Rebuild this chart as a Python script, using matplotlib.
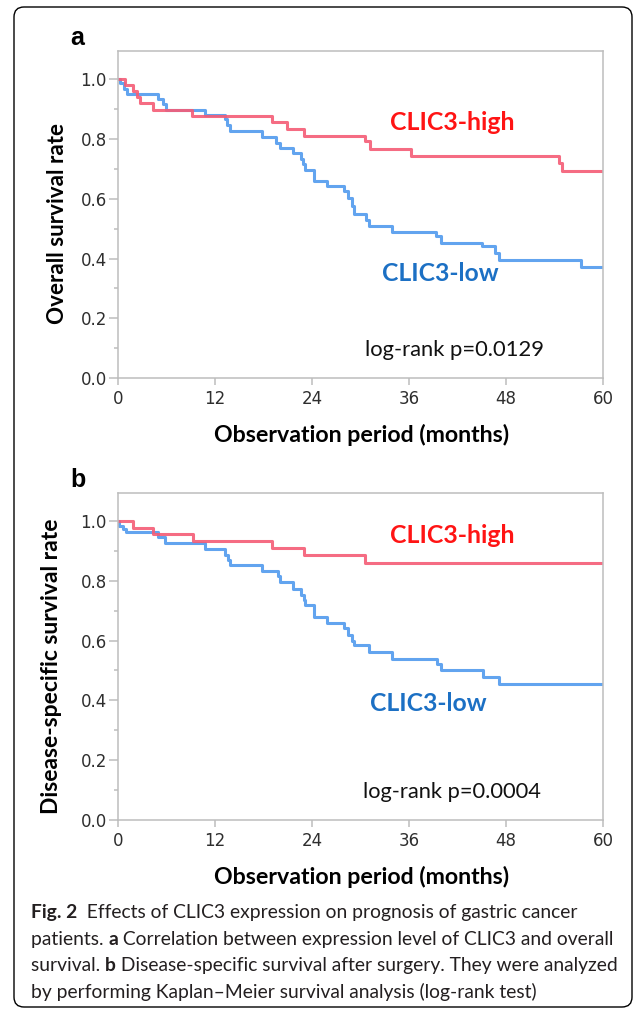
import matplotlib
matplotlib.use("Agg")
import matplotlib.pyplot as plt
from matplotlib.patches import FancyBboxPatch
from matplotlib.ticker import MultipleLocator
from matplotlib.transforms import IdentityTransform

W, H, DPI = 635, 1010, 100

# Kaplan-Meier curves (months, survival)
os_high_t = [0, 0.9, 1.8, 2.3, 2.7, 4.3, 9.2, 19.1, 20.9, 23.0, 30.6, 31.2, 36.3, 54.5, 54.9, 60]
os_high_s = [1.0, 0.981, 0.961, 0.942, 0.922, 0.897, 0.877, 0.857, 0.834, 0.810, 0.793, 0.768,
             0.745, 0.720, 0.692, 0.692]
os_low_t = [0, 0.25, 0.7, 1.1, 5.0, 5.6, 5.9, 10.8, 13.2, 13.5, 13.9, 17.8, 19.6, 20.1, 21.6,
            22.7, 22.9, 23.1, 24.2, 24.3, 25.8, 27.9, 28.4, 28.9, 29.2, 30.7, 31.0, 33.9, 39.4,
            39.9, 45.0, 46.7, 47.1, 57.3, 60]
os_low_s = [1.0, 0.987, 0.969, 0.950, 0.933, 0.916, 0.897, 0.880, 0.866, 0.846, 0.826, 0.806,
            0.787, 0.769, 0.752, 0.732, 0.715, 0.698, 0.676, 0.661, 0.642, 0.625, 0.603, 0.575,
            0.550, 0.530, 0.510, 0.488, 0.474, 0.452, 0.441, 0.418, 0.396, 0.373, 0.373]

dss_high_t = [0, 1.8, 4.3, 9.3, 19.1, 23.0, 30.6, 60]
dss_high_s = [1.0, 0.978, 0.958, 0.932, 0.910, 0.885, 0.860, 0.860]
dss_low_t = [0, 0.15, 0.6, 1.0, 5.0, 5.8, 10.8, 13.2, 13.6, 13.9, 17.8, 19.8, 20.1, 21.6, 22.7,
             23.0, 23.1, 24.2, 24.3, 25.9, 27.9, 28.5, 28.9, 29.2, 31.0, 33.9, 39.5, 39.9, 45.1,
             47.1, 60]
dss_low_s = [1.0, 0.983, 0.972, 0.962, 0.947, 0.925, 0.908, 0.886, 0.869, 0.852, 0.833, 0.815,
             0.796, 0.774, 0.752, 0.735, 0.718, 0.701, 0.679, 0.659, 0.641, 0.618, 0.600, 0.584,
             0.561, 0.539, 0.522, 0.500, 0.478, 0.455, 0.455]

x_ticks = [0, 12, 24, 36, 48, 60]
y_ticks = [0.0, 0.2, 0.4, 0.6, 0.8, 1.0]

RED_LINE, BLUE_LINE = "#F45C76", "#519AEE"
RED_TEXT, BLUE_TEXT = "#FF1414", "#1C70C4"
GRAY = "#BDBDBD"

fig = plt.figure(figsize=(W / DPI, H / DPI), dpi=DPI)
renderer = fig.canvas.get_renderer()


def fxy(x, y):
    # pixel position (from top-left) -> figure fraction
    return x / W, 1 - y / H


def fit(t, target):
    bb = t.get_window_extent(renderer)
    t.set_fontsize(t.get_fontsize() * target / max(bb.width, bb.height))
    return t


def label(x, y, s, target, **kw):
    t = fig.text(*fxy(x, y), s, fontsize=14, **kw)
    return fit(t, target)


def style_axes(ax):
    ax.set_xlim(0, 60)
    ax.set_ylim(0, 1.095)
    ax.set_xticks(x_ticks)
    ax.set_yticks(y_ticks)
    ax.set_yticklabels([f"{v:.1f}" for v in y_ticks])
    ax.yaxis.set_minor_locator(MultipleLocator(0.1))
    for s in ax.spines.values():
        s.set_color(GRAY)
        s.set_linewidth(1.1)
    ax.tick_params(axis="both", which="both", colors=GRAY, labelcolor="#2E2E2E",
                   labelsize=12, width=1.1)
    ax.tick_params(axis="y", which="major", length=6.5, pad=1.5)
    ax.tick_params(axis="y", which="minor", length=3)
    ax.tick_params(axis="x", length=5, pad=4)


panels = [
    (51, os_high_t, os_high_s, os_low_t, os_low_s, "a", "Overall survival rate", 58, 224, 202,
     "log-rank p=0.0129", (365, 356), (390, 130), (382, 281)),
    (492.7, dss_high_t, dss_high_s, dss_low_t, dss_low_s, "b", "Disease-specific survival rate",
     52, 666, 297, "log-rank p=0.0004", (363, 798), (390, 543), (370, 711)),
]

for (top, ht, hs, lt, ls, tag, ylab, ylx, yly, ylw, ptxt, ppos, hpos, lpos) in panels:
    bottom = top + 327
    ax = fig.add_axes([118 / W, 1 - bottom / H, (603 - 118) / W, (bottom - top) / H])
    style_axes(ax)
    ax.step(lt, ls, where="post", color=BLUE_LINE, lw=2.2, alpha=0.9)
    ax.step(ht, hs, where="post", color=RED_LINE, lw=2.2, alpha=0.9)

    fig.text(*fxy(70, top - 6), tag, family="Liberation Sans", fontweight="bold",
             fontsize=18, va="baseline")
    label(ylx, yly, ylab, ylw, family="Lato", fontweight="bold", rotation=90,
          ha="center", va="center")
    label(361.5, bottom + 64, "Observation period (months)", 297, family="Lato",
          fontweight="bold", ha="center", va="baseline")
    label(*hpos, "CLIC3-high", 125, family="Lato", fontweight="bold", color=RED_TEXT,
          va="baseline")
    label(*lpos, "CLIC3-low", 117, family="Lato", fontweight="bold", color=BLUE_TEXT,
          va="baseline")
    label(*ppos, ptxt, 180, family="Lato", color="#111111", va="baseline")

# caption
caption = [
    [("Fig. 2", "bold"), ("  Effects of CLIC3 expression on prognosis of gastric cancer", "normal")],
    [("patients. ", "normal"), ("a", "bold"),
     (" Correlation between expression level of CLIC3 and overall", "normal")],
    [("survival. ", "normal"), ("b", "bold"),
     (" Disease-specific survival after surgery. They were analyzed", "normal")],
    [("by performing Kaplan\u2013Meier survival analysis (log-rank test)", "normal")],
]
probe = fig.text(0, 0, "".join(s for s, _ in caption[1]), family="Lato", fontsize=12)
cap_size = 12 * 582 / probe.get_window_extent(renderer).width
probe.remove()

for i, runs in enumerate(caption):
    x = 31
    y = 918 + i * 26.7
    for s, weight in runs:
        t = fig.text(*fxy(x, y), s, family="Lato", fontweight=weight, fontsize=cap_size,
                     va="baseline", color="#231F20")
        x += t.get_window_extent(renderer).width

# rounded frame around figure and caption
frame = FancyBboxPatch((14, H - 1007), 618, 1000, boxstyle="round,pad=0,rounding_size=10",
                       transform=IdentityTransform(), fill=False, ec="black", lw=1.0)
fig.add_artist(frame)

fig.savefig("out.png", dpi=DPI)
plt.close(fig)
